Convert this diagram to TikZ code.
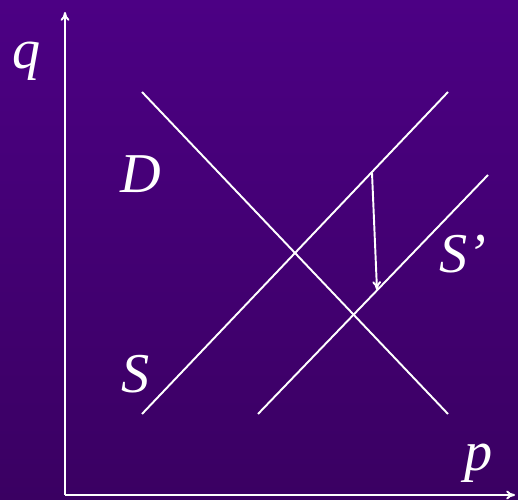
\documentclass[tikz,border=0pt]{standalone}
\usepackage{fontspec}
\setmainfont{Liberation Serif}
\usepackage{tikz}
\usetikzlibrary{
  positioning,
  arrows.meta,
  calc
}
\definecolor{BgTop}{RGB}{76,0,132}
\definecolor{BgBottom}{RGB}{58,0,98}

\begin{document}
\begin{tikzpicture}[
  axis/.style={-{To[length=5pt,width=5pt]},white,line width=1.1pt},
  curve/.style={white,line width=1.1pt},
  shift arr/.style={-{To[length=5pt,width=5pt]},white,line width=1.1pt},
  lbl/.style={white,font=\fontsize{32}{36}\selectfont\itshape,inner sep=0pt},
]
% —— background ——
\shade[top color=BgTop,bottom color=BgBottom] (0,0) rectangle (10.36,10);
\useasboundingbox (0,0) rectangle (10.36,10);

% —— axes ——
\coordinate (O) at (1.30,0.10);
\coordinate (Qtop) at (1.30,9.76);
\coordinate (Pend) at (10.30,0.10);
\draw[axis] (O)--(Qtop);
\draw[axis] (O)--(Pend);

% —— demand / supply ——
\coordinate (D1) at (2.84,8.16);
\coordinate (D2) at (8.96,1.72);
\coordinate (S1) at (2.84,1.72);
\coordinate (S2) at (8.96,8.16);
\coordinate (T1) at (5.16,1.72);
\coordinate (T2) at (9.76,6.50);
\draw[curve] (D1)--(D2);
\draw[curve] (S1)--(S2);
\draw[curve] (T1)--(T2);

% —— shift ——
\coordinate (A1) at (7.44,6.54);
\coordinate (A2) at (7.54,4.20);
\draw[shift arr] (A1)--(A2);

% —— labels ——
\node[lbl] (q) at (0.54,8.78) {q};
\node[lbl] (p) at (9.58,0.74) {p};
\node[lbl] (D) at (2.82,6.52) {D};
\node[lbl] (S) at (2.72,2.52) {S};
\node[lbl] (Sp) at (9.26,4.92) {S’};
\end{tikzpicture}
\end{document}
